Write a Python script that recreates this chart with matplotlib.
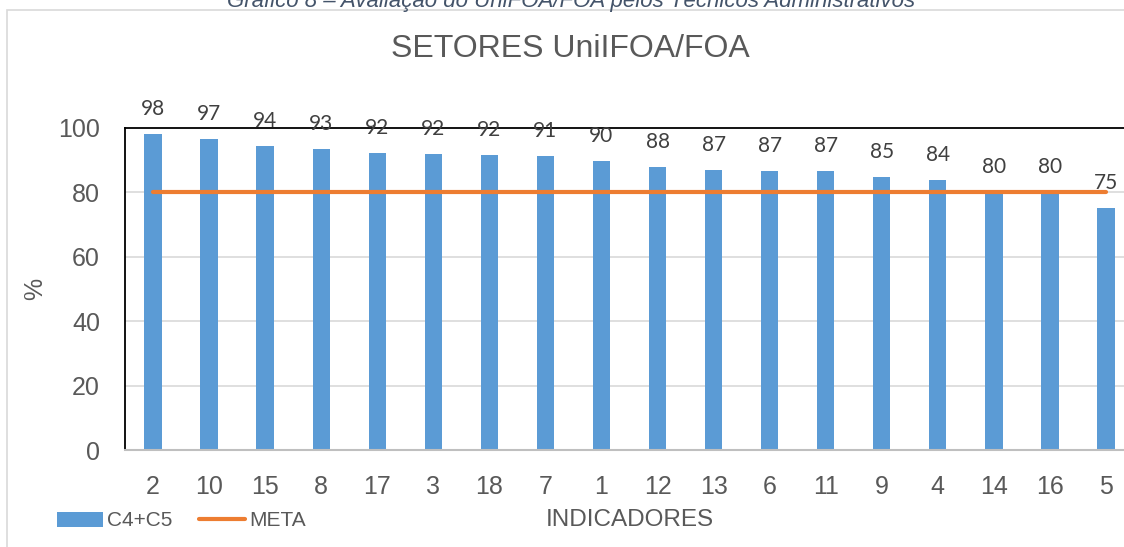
import matplotlib
matplotlib.use("Agg")
import matplotlib.pyplot as plt
from matplotlib.patches import Rectangle, Patch
from matplotlib.lines import Line2D

# dados
indicadores = ['2', '10', '15', '8', '17', '3', '18', '7', '1', '12', '13', '6', '11', '9', '4', '14', '16', '5']
c4_c5 = [98.1, 96.6, 94.4, 93.4, 92.1, 91.9, 91.5, 91.2, 89.6, 88.0, 87.1, 86.8, 86.8, 84.9, 83.9, 80.0, 80.0, 75.2]
rotulos = [98, 97, 94, 93, 92, 92, 92, 91, 90, 88, 87, 87, 87, 85, 84, 80, 80, 75]
meta = [80] * len(indicadores)

azul = '#5B9BD5'
laranja = '#ED7D31'
cinza = '#595959'

plt.rcParams['font.family'] = ['Liberation Sans', 'DejaVu Sans']

W, H = 1124, 547
fig = plt.figure(figsize=(W / 100, H / 100), dpi=100)

# borda externa do grafico (sai da imagem a direita e embaixo)
fig.patches.append(Rectangle((7 / W, -0.1), 1.2, 1 - 9.5 / H + 0.1, transform=fig.transFigure,
                             fill=False, edgecolor='#D9D9D9', linewidth=1.2, zorder=0))

ax = fig.add_axes([125 / W, 97 / H, 1009 / W, 322 / H])
x = list(range(len(indicadores)))

ax.bar(x, c4_c5, width=0.31, color=azul, zorder=2)
ax.plot(x, meta, color=laranja, linewidth=3, solid_capstyle='round', zorder=3)

for xi, v, r in zip(x, c4_c5, rotulos):
    ax.annotate(str(r), (xi, v), xytext=(0, 18), textcoords='offset points',
                ha='center', va='center', fontsize=15, color='#404040', family='Lato', zorder=4)

ax.set_xlim(-0.5, len(indicadores) - 0.5)
ax.set_ylim(0, 100)
ax.set_yticks([0, 20, 40, 60, 80, 100])
ax.set_xticks(x)
ax.set_xticklabels(indicadores)
ax.tick_params(axis='both', length=0, labelsize=18, labelcolor=cinza)
ax.tick_params(axis='y', pad=18)
ax.tick_params(axis='x', pad=18)

for yv in [20, 40, 60, 80]:
    ax.axhline(yv, color='#D9D9D9', linewidth=1.2, zorder=1)

ax.spines['right'].set_visible(False)
ax.spines['left'].set_color('black')
ax.spines['left'].set_linewidth(1.3)
ax.spines['top'].set_color('black')
ax.spines['top'].set_linewidth(1.3)
ax.spines['bottom'].set_color('#BFBFBF')
ax.spines['bottom'].set_linewidth(1.5)

fig.text(570 / W, 1 - 49 / H, 'SETORES UniIFOA/FOA', ha='center', va='center', fontsize=23, color=cinza)
# legenda do documento, cortada no topo como no original
fig.text(571 / W, 1 - 7 / H, 'Gráfico 8 – Avaliação do UniFOA/FOA pelos Técnicos Administrativos',
         ha='center', va='baseline', fontsize=16, style='italic', color='#44546A')
fig.text(630 / W, 1 - 520 / H, 'INDICADORES', ha='center', va='center', fontsize=17.5, color=cinza)
fig.text(35 / W, 1 - 289 / H, '%', ha='center', va='center', rotation=90, fontsize=18, color=cinza)

handles = [Patch(facecolor=azul, edgecolor='none'),
           Line2D([0], [0], color=laranja, linewidth=3, solid_capstyle='round')]
fig.legend(handles, ['C4+C5', 'META'], loc='center left', bbox_to_anchor=(57 / W, 1 - 521 / H),
           ncol=2, frameon=False, fontsize=15, labelcolor=cinza, handlelength=2.2, handleheight=0.7,
           handletextpad=0.2, columnspacing=1.3, borderaxespad=0, borderpad=0)

fig.savefig('out.png', dpi=100)
